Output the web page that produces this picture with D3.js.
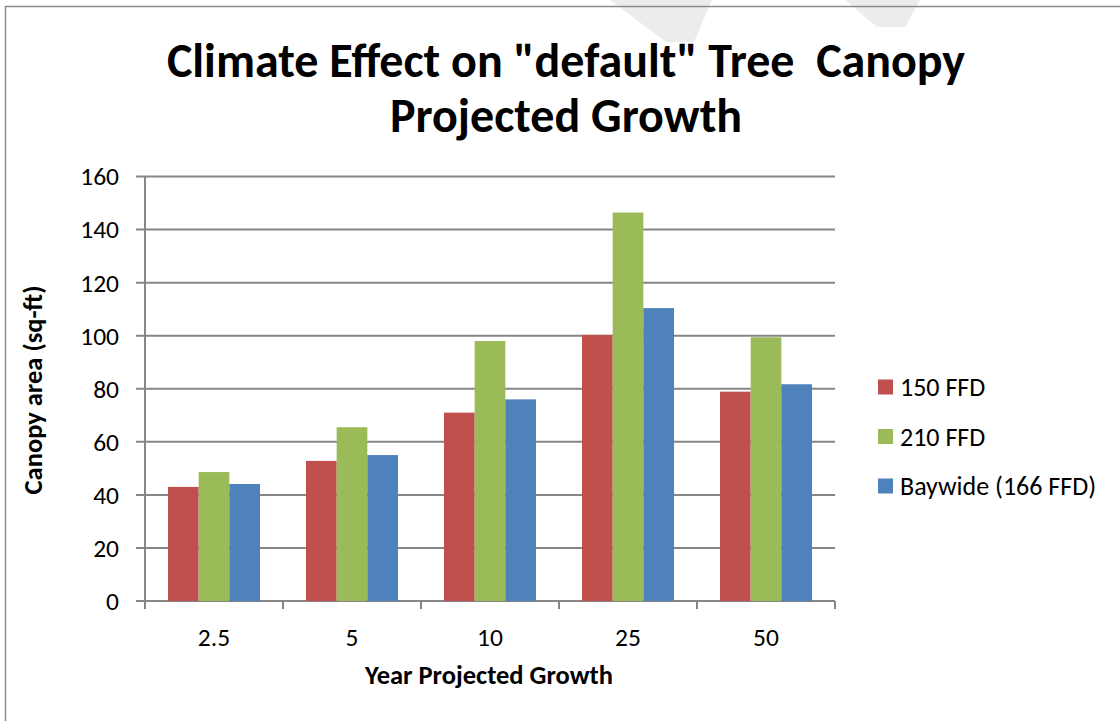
<!DOCTYPE html>
<html>
<head>
<meta charset="utf-8">
<script src="https://cdn.jsdelivr.net/npm/d3@7"></script>
<style>
html,body{margin:0;padding:0;background:#fff;}
svg{display:block;}
text{font-family:Carlito,Lato,"Open Sans",sans-serif;fill:#000;}
</style>
</head>
<body>
<svg id="chart" width="1120" height="721"></svg>
<script>
const categories = ["2.5", "5", "10", "25", "50"];
const seriesNames = ["150 FFD", "210 FFD", "Baywide (166 FFD)"];
const series150 = [43.0, 52.8, 71.0, 100.3, 78.9];
const series210 = [48.6, 65.5, 98.0, 146.4, 99.4];
const seriesBay = [44.1, 55.0, 76.0, 110.4, 81.7];
const yTicks = [0, 20, 40, 60, 80, 100, 120, 140, 160];
const colors = ["#C0504D", "#9BBB59", "#4F81BD"];
const titleLines = ['Climate Effect on "default" Tree\u00A0 Canopy', 'Projected Growth'];

const seriesValues = [series150, series210, seriesBay];
const data = categories.map((c, i) => ({cat: c, vals: seriesNames.map((s, j) => ({s, j, v: seriesValues[j][i]}))}));

const svg = d3.select("#chart");

// border and faint background shapes
svg.append("polygon").attr("points", "610,0 712,0 694,42 666,42").attr("fill", "#ececec");
svg.append("polygon").attr("points", "845,0 920,0 905,27 877,27").attr("fill", "#ececec");
svg.append("path").attr("d", "M5.5,721 V6.5 H1120").attr("fill", "none").attr("stroke", "#8c8c8c").attr("stroke-width", 1.5);

const x = d3.scaleBand().domain(categories).range([145, 835]);
const x1 = d3.scaleBand().domain(seriesNames).range([0, 92]);
const y = d3.scaleLinear().domain([0, 160]).range([601, 176.5]);

const gridColor = "#868686";

// gridlines
svg.append("g").selectAll("line").data(yTicks).join("line")
  .attr("x1", 136).attr("x2", 835)
  .attr("y1", d => y(d)).attr("y2", d => y(d))
  .attr("stroke", gridColor).attr("stroke-width", 2);

// y-axis line
svg.append("line").attr("x1", 145).attr("x2", 145).attr("y1", y(160)).attr("y2", y(0) + 8)
  .attr("stroke", gridColor).attr("stroke-width", 2);

// x tick marks
const xEdges = categories.map(c => x(c)).concat([x(categories[categories.length - 1]) + x.bandwidth()]);
svg.append("g").selectAll("line").data(xEdges).join("line")
  .attr("x1", d => d).attr("x2", d => d)
  .attr("y1", y(0)).attr("y2", y(0) + 8)
  .attr("stroke", gridColor).attr("stroke-width", 2);

// bars
const off = (x.bandwidth() - 92) / 2;
const groups = svg.append("g").selectAll("g").data(data).join("g")
  .attr("transform", d => `translate(${x(d.cat) + off},0)`);
groups.selectAll("rect").data(d => d.vals).join("rect")
  .attr("x", d => x1(d.s))
  .attr("width", x1.bandwidth())
  .attr("y", d => y(d.v))
  .attr("height", d => y(0) - y(d.v))
  .attr("fill", d => colors[d.j]);

// y tick labels
svg.append("g").selectAll("text").data(yTicks).join("text")
  .attr("x", 119).attr("y", d => y(d)).attr("dy", "0.35em")
  .attr("text-anchor", "end").attr("font-size", 25.5).text(d => d);

// x tick labels
svg.append("g").selectAll("text").data(categories).join("text")
  .attr("x", d => x(d) + x.bandwidth() / 2).attr("y", 646)
  .attr("text-anchor", "middle").attr("font-size", 25.5).text(d => d);

// axis titles
svg.append("text").attr("x", 489).attr("y", 684).attr("text-anchor", "middle")
  .attr("font-size", 26.5).attr("font-weight", "bold").text("Year Projected Growth");
svg.append("text").attr("transform", "translate(33,390) rotate(-90)").attr("dy", "0.35em")
  .attr("text-anchor", "middle").attr("font-size", 26.5).attr("font-weight", "bold").text("Canopy area (sq-ft)");

// title
svg.append("g").selectAll("text").data(titleLines).join("text")
  .attr("x", 566).attr("y", (d, i) => 77 + i * 55)
  .attr("text-anchor", "middle").attr("font-size", 48).attr("font-weight", "bold")
  .text(d => d);

// legend
const leg = svg.append("g").selectAll("g").data(seriesNames).join("g")
  .attr("transform", (d, i) => `translate(878,${387 + i * 49.5})`);
leg.append("rect").attr("x", 0).attr("y", -7.5).attr("width", 15).attr("height", 15)
  .attr("fill", (d, i) => colors[i]);
leg.append("text").attr("x", 22).attr("y", 0).attr("dy", "0.35em").attr("font-size", 26).text(d => d);
</script>
</body>
</html>
